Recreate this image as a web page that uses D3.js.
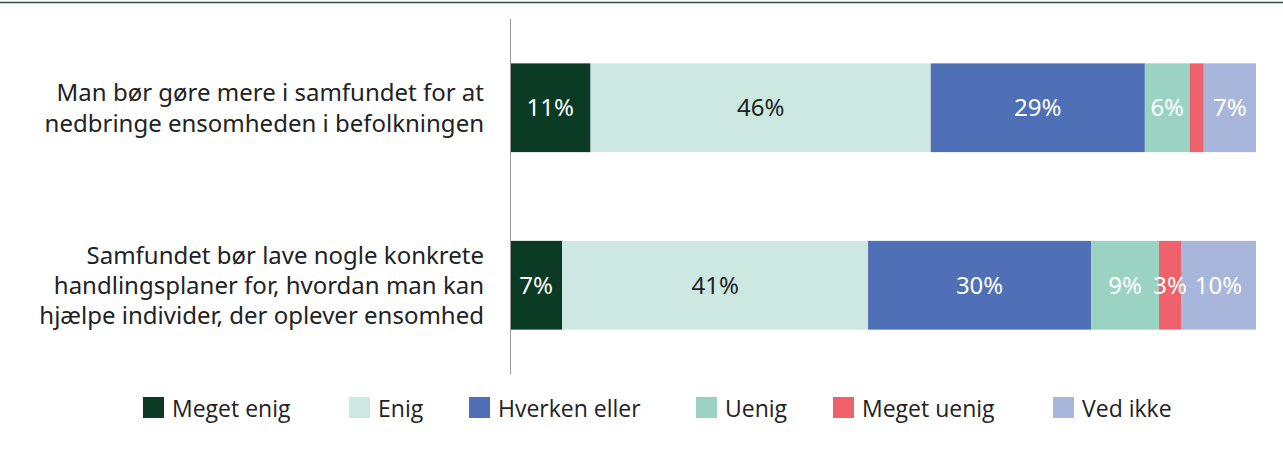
<!DOCTYPE html>
<html><head><meta charset="utf-8">
<script src="https://cdn.jsdelivr.net/npm/d3@7"></script>
<style>body{margin:0;background:#fff}svg{display:block;font-family:"Open Sans",sans-serif}</style>
</head><body><svg id="c" width="1283" height="452"></svg>
<script>
const categories = [
  ["Man bør gøre mere i samfundet for at", "nedbringe ensomheden i befolkningen"],
  ["Samfundet bør lave nogle konkrete", "handlingsplaner for, hvordan man kan", "hjælpe individer, der oplever ensomhed"]
];
const seriesNames = ["Meget enig", "Enig", "Hverken eller", "Uenig", "Meget uenig", "Ved ikke"];
const colors = ["#0b3b24", "#cde8e0", "#4f70b7", "#9bd3c2", "#ef626c", "#a7b6da"];
const labelColors = ["#fff", "#222", "#fff", "#fff", "#fff", "#fff"];
const values1 = [10.8, 45.6, 28.7, 6.0, 1.9, 7.0];
const values2 = [7.0, 41.0, 29.9, 9.1, 2.95, 10.05];
const labels1 = ["11%", "46%", "29%", "6%", "", "7%"];
const labels2 = ["7%", "41%", "30%", "9%", "3%", "10%"];
const allValues = [values1, values2];
const allLabels = [labels1, labels2];

const svg = d3.select("#c");
const x = d3.scaleLinear().domain([0, 100]).range([510, 1256]);
const y = d3.scaleBand().domain([0, 1]).range([19, 374]).paddingInner(0.5).paddingOuter(0.25);

svg.append("line").attr("x1", 0).attr("x2", 1283).attr("y1", 2.5).attr("y2", 2.5)
  .attr("stroke", "#2f4a3e").attr("stroke-width", 1.5);

allValues.forEach((vals, i) => {
  let cum = 0;
  const segs = vals.map((v, j) => { const s = {x0: cum, x1: cum + v, j}; cum += v; return s; });
  const g = svg.append("g");
  g.selectAll("rect").data(segs).join("rect")
    .attr("x", d => x(d.x0)).attr("width", d => x(d.x1) - x(d.x0))
    .attr("y", y(i)).attr("height", y.bandwidth())
    .attr("fill", d => colors[d.j]);
  g.selectAll("text").data(segs).join("text")
    .attr("x", d => (x(d.x0) + x(d.x1)) / 2)
    .attr("y", y(i) + y.bandwidth() / 2)
    .attr("dy", "0.35em").attr("text-anchor", "middle")
    .attr("font-family", "Noto Sans")
    .attr("font-size", 24).attr("fill", d => labelColors[d.j])
    .text(d => allLabels[i][d.j]);
  const lines = categories[i];
  const t = svg.append("text").attr("text-anchor", "end").attr("font-size", 24)
    .attr("font-family", "Noto Sans").attr("fill", "#222");
  const lh = lines.length === 2 ? 31 : 30;
  lines.forEach((ln, k) => {
    t.append("tspan").attr("x", 484)
      .attr("y", y(i) + y.bandwidth() / 2 + (k - (lines.length - 1) / 2) * lh)
      .attr("dy", "0.35em").text(ln);
  });
});

svg.append("line").attr("x1", 510.5).attr("x2", 510.5).attr("y1", 19).attr("y2", 374)
  .attr("stroke", "#9a9a9a").attr("stroke-width", 1);

const legendX = [143, 349, 469, 696, 833, 1053];
const lg = svg.append("g");
seriesNames.forEach((n, j) => {
  lg.append("rect").attr("x", legendX[j]).attr("y", 397).attr("width", 21).attr("height", 21).attr("fill", colors[j]);
  lg.append("text").attr("x", legendX[j] + 29).attr("y", 408.5).attr("dy", "0.35em")
    .attr("font-size", 23).attr("fill", "#222").text(n);
});
</script></body></html>
